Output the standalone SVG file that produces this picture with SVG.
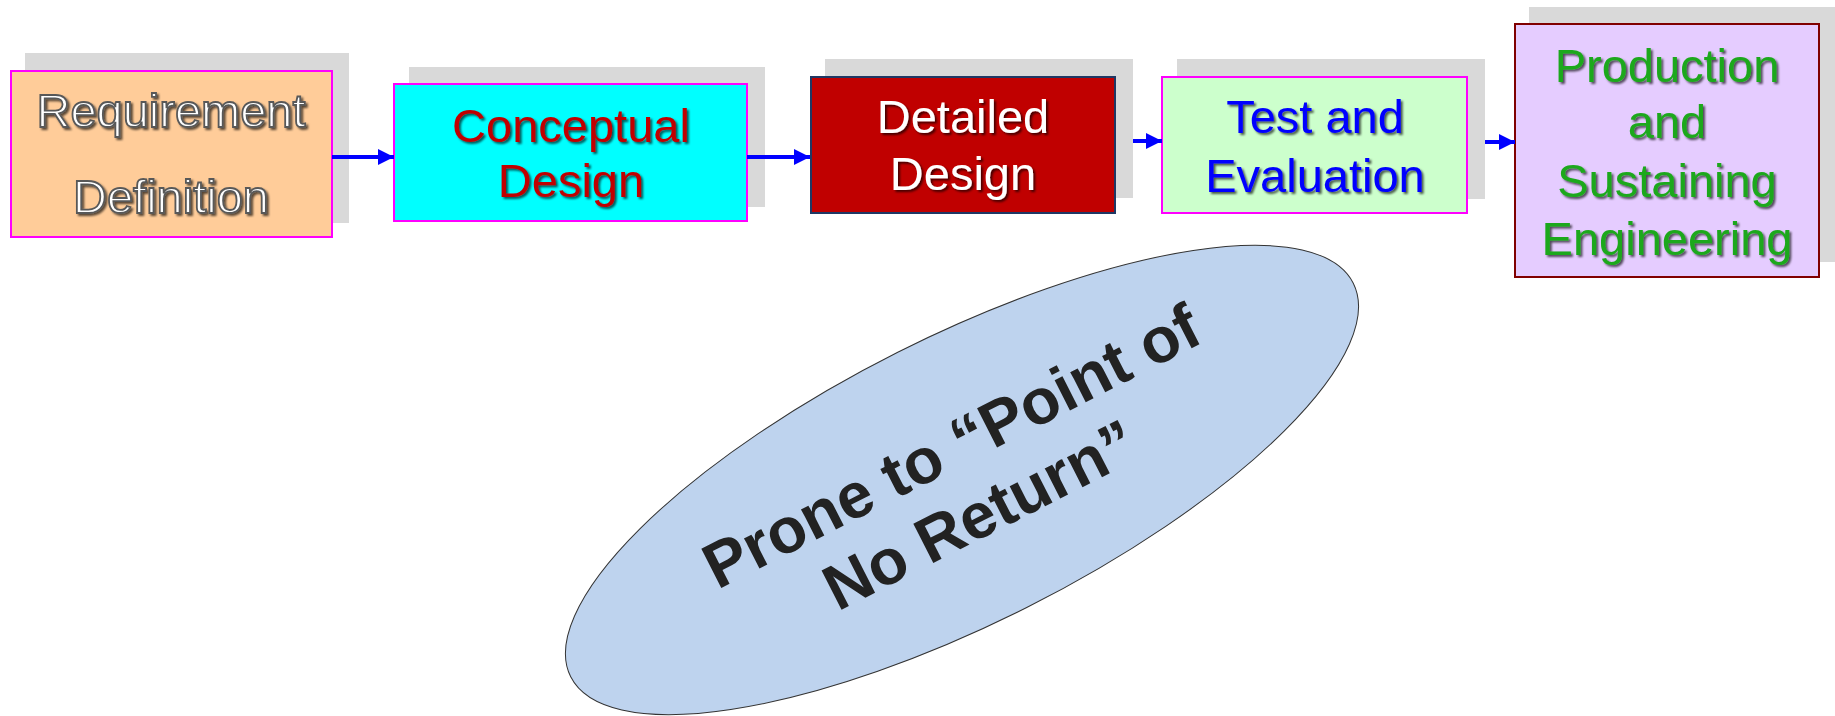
<svg xmlns="http://www.w3.org/2000/svg" width="1835" height="716" viewBox="0 0 1835 716">
<defs>
<style>
.shadow{fill:#D9D9D9;}
.lbl{font-family:"Liberation Sans",Arial,sans-serif;font-size:47px;text-anchor:middle;}
.conn{stroke:#0000FF;stroke-width:4;fill:none;}
</style>
<filter id="ds" x="-10%" y="-20%" width="130%" height="150%">
<feDropShadow dx="2" dy="2" stdDeviation="1.2" flood-color="#000" flood-opacity="0.65"/>
</filter>
<marker id="ah" markerUnits="userSpaceOnUse" markerWidth="18" markerHeight="16" refX="16" refY="8" orient="auto">
<path d="M0,0 L16,8 L0,16 Z" fill="#0000FF"/>
</marker>
</defs>
<rect width="1835" height="716" fill="#FFFFFF"/>

<g id="node-requirement">
<rect class="shadow" x="25" y="53" width="324" height="170"/>
<rect x="11" y="71" width="321" height="166" fill="#FFCC99" stroke="#FF00FF" stroke-width="2"/>
<g class="lbl" fill="#FFFFFF" stroke="#595959" stroke-width="1.8" filter="url(#ds)">
<text x="171" y="127">Requirement</text>
<text x="171" y="213">Definition</text>
</g>
</g>

<g id="node-conceptual">
<rect class="shadow" x="409" y="67" width="356" height="140"/>
<rect x="394" y="84" width="353" height="137" fill="#00FFFF" stroke="#FF00FF" stroke-width="2"/>
<g class="lbl" fill="#C00000" filter="url(#ds)">
<text x="571" y="142">Conceptual</text>
<text x="571" y="197">Design</text>
</g>
</g>

<g id="node-detailed">
<rect class="shadow" x="825" y="59" width="308" height="139"/>
<rect x="811" y="77" width="304" height="136" fill="#C00000" stroke="#1F3864" stroke-width="2"/>
<g class="lbl" fill="#FFFFFF" filter="url(#ds)">
<text x="963" y="133">Detailed</text>
<text x="963" y="190">Design</text>
</g>
</g>

<g id="node-test">
<rect class="shadow" x="1177" y="59" width="308" height="140"/>
<rect x="1162" y="77" width="305" height="136" fill="#CCFFCC" stroke="#FF00FF" stroke-width="2"/>
<g class="lbl" fill="#0000FF" filter="url(#ds)">
<text x="1315" y="133">Test and</text>
<text x="1315" y="192">Evaluation</text>
</g>
</g>

<g id="node-production">
<rect class="shadow" x="1529" y="7" width="306" height="255"/>
<rect x="1515" y="24" width="304" height="253" fill="#E5CCFF" stroke="#800000" stroke-width="2"/>
<g class="lbl" fill="#1CA81C" filter="url(#ds)">
<text x="1667" y="82">Production</text>
<text x="1667" y="138">and</text>
<text x="1667" y="197">Sustaining</text>
<text x="1667" y="255">Engineering</text>
</g>
</g>

<g id="connectors">
<line class="conn" x1="332" y1="157" x2="394" y2="157" marker-end="url(#ah)"/>
<line class="conn" x1="747" y1="157" x2="810" y2="157" marker-end="url(#ah)"/>
<line class="conn" x1="1133" y1="141" x2="1162" y2="141" marker-end="url(#ah)"/>
<line class="conn" x1="1485" y1="142" x2="1515" y2="142" marker-end="url(#ah)"/>
</g>

<g id="node-ellipse">
<ellipse cx="962" cy="480" rx="438" ry="143" transform="rotate(-26.7 962 480)" fill="#BED3EE" stroke="#333333" stroke-width="1"/>
<g transform="translate(962,480) rotate(-27)" font-family="'Liberation Sans',Arial,sans-serif" font-weight="bold" font-size="64" fill="#222222" text-anchor="middle">
<text x="6" y="-13">Prone to “Point of</text>
<text x="0" y="61">No Return”</text>
</g>
</g>
</svg>
